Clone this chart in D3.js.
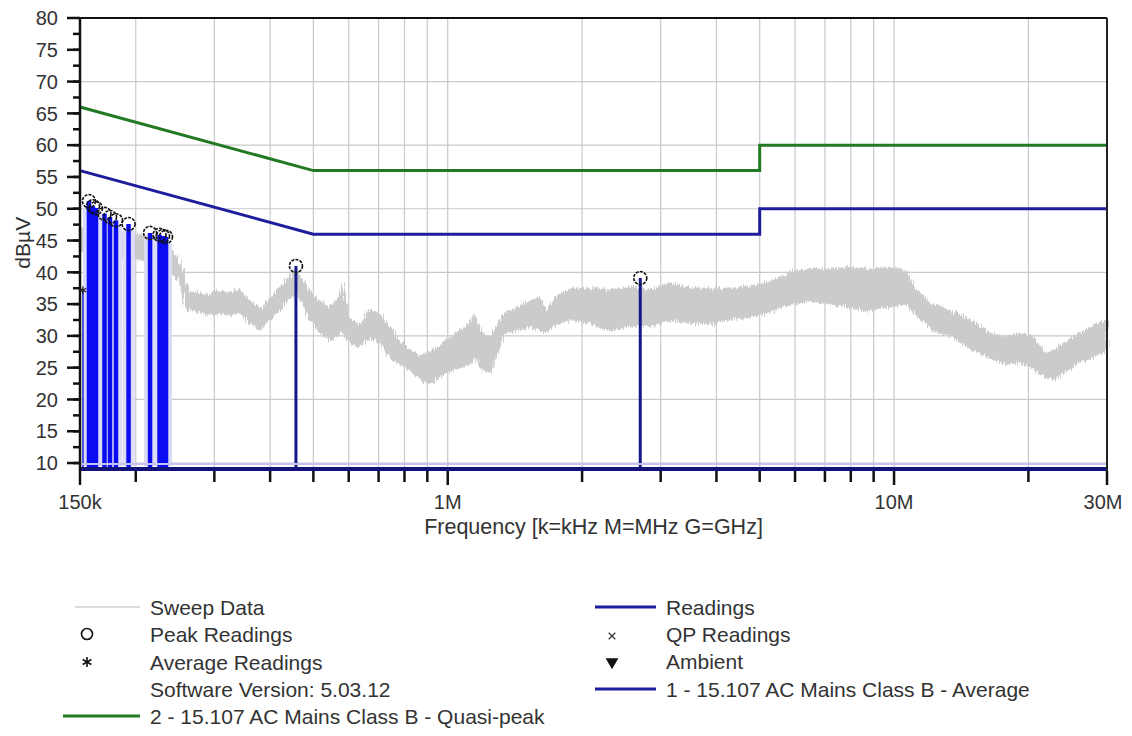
<!DOCTYPE html>
<html><head><meta charset="utf-8">
<script src="https://cdn.jsdelivr.net/npm/d3@7"></script>
<style>
body{margin:0;background:#fff}
text{font-family:"Liberation Sans",Arial,sans-serif;fill:#333}
</style>
</head><body>
<svg id="chart" width="1132" height="736"></svg>
<script>
// Conducted emissions sweep (MHz, dBµV): upper and lower envelope of the trace
const sweepFreqMHz = [0.150,0.158,0.166,0.175,0.1845,0.194,0.204,0.215,0.227,0.239,0.246,0.254,0.259,0.264,0.278,0.293,0.309,0.325,0.343,0.361,0.380,0.400,0.421,0.443,0.457,0.472,0.491,0.517,0.545,0.568,0.580,0.598,0.629,0.670,0.705,0.743,0.782,0.824,0.867,0.913,0.962,1.013,1.067,1.123,1.151,1.183,1.245,1.290,1.344,1.430,1.531,1.612,1.66,1.74,1.882,2.087,2.31,2.56,2.84,3.15,3.49,3.87,4.29,4.76,5.27,5.85,6.48,7.19,7.97,8.83,9.79,10.58,11.15,12.04,13.35,14.8,16.4,17.7,19.1,20.4,21.8,22.9,24.5,26.0,28.2,30.0];
const sweepHigh = [47,47.5,47,46.5,46.5,46,46,45.5,45,43.5,42.5,40.5,38.5,37,36.8,36.5,37,36.8,37.2,35.5,34.2,36,37.7,39.3,40.6,39,37,35.5,34.5,36,38.3,33,31.5,34.1,33.5,31.5,29,27.8,26.8,27.5,28.5,29.8,31,32,33.6,30.9,29.5,32,33.6,34.5,35.5,36,34.1,36,37.5,37.5,37.2,37.7,37.2,38.3,37.5,37.5,37.5,37.8,38.5,40,40.6,40.5,40.8,40.5,40.8,40.5,37.5,35.2,34,32.5,30.5,29.8,30.4,30,27.3,27.8,29.3,30.4,31.8,32.5];
const sweepLow = [43,43.5,43.5,43,42.5,42.5,42,41.8,41,40.5,39.5,37.5,34.5,34,33.6,33.3,33.5,33.3,33.6,32,30.9,32.5,34.1,36,36.7,35,32.5,30.5,29.3,30,31,29,28.2,29.8,29,26.5,25.5,24.6,23,22.5,23.5,24.5,25,25.5,27,25,24.2,27,30.4,30.9,31.4,30.9,30.5,31.5,32.5,32,30.8,31.5,31.5,32.5,32,32,32.5,33,33.6,35,35.5,35,34.5,34,34.5,35,33.5,30.9,30,28,26.5,25.5,25.8,25,23.5,23.2,24.6,25.8,26.8,27.8];

// Final readings (MHz, dBµV)
const readingFreqMHz = [0.1571,0.1604,0.1629,0.1702,0.1751,0.1806,0.1927,0.2153,0.2261,0.2302,0.2338,0.457,2.70];
const readingPeak = [51.2,50.4,50.1,49.2,48.7,48.2,47.6,46.2,45.9,45.7,45.6,41.0,39.1];
const averageFreqMHz = [0.1523];
const averageValue = [37.2];

// FCC 15.107 Class B limits
const qpLimitFreqMHz = [0.15,0.5,5,5,30];
const qpLimit = [66,56,56,60,60];
const avgLimitFreqMHz = [0.15,0.5,5,5,30];
const avgLimit = [56,46,46,50,50];

// Axis ticks
const yTicks = d3.range(10, 81, 5);
const yMinorTicks = d3.range(10, 80, 2.5);
const yGrid = [10,20,30,40,50,60,70];
const xLabelTicks = [0.15,1,10,30];
const xTickLabels = ["150k","1M","10M","30M"];
const xMinorTicks = [0.2,0.3,0.4,0.5,0.6,0.7,0.8,0.9,2,3,4,5,6,7,8,9,20];

const svg = d3.select("#chart");
const L = 80, R = 1107, T = 18, B = 467.5;
const x = d3.scaleLog().domain([0.15, 30]).range([L, R]);
const y = d3.scaleLinear().domain([9.3, 80]).range([B, T]);

// jitter texture for the raw sweep trace
const defs = svg.append("defs");
const flt = defs.append("filter").attr("id", "grain")
  .attr("x", "-2%").attr("y", "-15%").attr("width", "104%").attr("height", "130%");
flt.append("feTurbulence").attr("type", "fractalNoise").attr("baseFrequency", "0.9 0.06")
  .attr("numOctaves", 2).attr("seed", 4).attr("result", "n");
flt.append("feDisplacementMap").attr("in", "SourceGraphic").attr("in2", "n")
  .attr("scale", 9).attr("xChannelSelector", "R").attr("yChannelSelector", "G");

// grid
const grid = svg.append("g").attr("stroke", "#c9c9c9").attr("stroke-width", 1.2);
grid.selectAll(".gx").data(xMinorTicks.concat([1, 10])).join("line")
  .attr("x1", d => x(d)).attr("x2", d => x(d)).attr("y1", T).attr("y2", B);
grid.selectAll(".gy").data(yGrid).join("line")
  .attr("x1", L).attr("x2", R).attr("y1", d => y(d)).attr("y2", d => y(d));

// sweep trace
const sweep = sweepFreqMHz.map((f, i) => ({f, hi: sweepHigh[i], lo: sweepLow[i]}));
svg.append("path").datum(sweep)
  .attr("fill", "#cbcbcb").attr("stroke", "#cbcbcb").attr("stroke-width", 1)
  .attr("filter", "url(#grain)")
  .attr("d", d3.area().x(d => x(d.f)).y0(d => y(d.lo)).y1(d => y(d.hi)));

// limit lines
const lim = d3.line().x(d => x(d[0])).y(d => y(d[1]));
svg.append("path").datum(qpLimitFreqMHz.map((f, i) => [f, qpLimit[i]]))
  .attr("fill", "none").attr("stroke", "#217a21").attr("stroke-width", 3).attr("d", lim);
svg.append("path").datum(avgLimitFreqMHz.map((f, i) => [f, avgLimit[i]]))
  .attr("fill", "none").attr("stroke", "#1c1c9c").attr("stroke-width", 3).attr("d", lim);

// readings
const readings = readingFreqMHz.map((f, i) => ({f, v: readingPeak[i]}));
const cluster = readings.filter(d => d.f < 0.3);
const single = readings.filter(d => d.f >= 0.3);
svg.append("g").selectAll("line").data(cluster).join("line")
  .attr("x1", d => x(d.f)).attr("x2", d => x(d.f)).attr("y1", d => y(d.v) + 6).attr("y2", 466)
  .attr("stroke", "#dcdcf7").attr("stroke-width", 12);
svg.append("g").selectAll("line").data(cluster).join("line")
  .attr("x1", d => x(d.f)).attr("x2", d => x(d.f)).attr("y1", d => y(d.v)).attr("y2", 468)
  .attr("stroke", "#0c0cf0").attr("stroke-width", 4.5);
svg.append("g").selectAll("line").data(single).join("line")
  .attr("x1", d => x(d.f)).attr("x2", d => x(d.f)).attr("y1", d => y(d.v)).attr("y2", 468)
  .attr("stroke", "#17178a").attr("stroke-width", 3);
// average reading
svg.append("g").selectAll("line").data(averageFreqMHz).join("line")
  .attr("x1", d => x(d)).attr("x2", d => x(d)).attr("y1", (d, i) => y(averageValue[i])).attr("y2", 468)
  .attr("stroke", "#2020e0").attr("stroke-width", 1.5);
svg.append("g").selectAll("path").data(averageFreqMHz).join("path")
  .attr("transform", (d, i) => `translate(${x(d)},${y(averageValue[i])})`)
  .attr("d", d3.symbol(d3.symbolAsterisk, 40)).attr("stroke", "#222").attr("stroke-width", 1.3).attr("fill", "none");
// peak markers
svg.append("g").selectAll("circle").data(readings).join("circle")
  .attr("cx", d => x(d.f)).attr("cy", d => y(d.v)).attr("r", 6.5)
  .attr("fill", "none").attr("stroke", "#111").attr("stroke-width", 1.6).attr("stroke-dasharray", "3 1.2");

// baseline bands
svg.append("line").attr("x1", L).attr("x2", R).attr("y1", 464).attr("y2", 464)
  .attr("stroke", "#c4c4f2").attr("stroke-width", 2);
svg.append("line").attr("x1", L).attr("x2", R).attr("y1", 469).attr("y2", 469)
  .attr("stroke", "#12127a").attr("stroke-width", 4);

// frame
svg.append("line").attr("x1", 67).attr("x2", R).attr("y1", T).attr("y2", T).attr("stroke", "#111").attr("stroke-width", 2);
svg.append("line").attr("x1", R).attr("x2", R).attr("y1", T).attr("y2", 471).attr("stroke", "#222").attr("stroke-width", 2);
svg.append("line").attr("x1", L).attr("x2", L).attr("y1", T - 1).attr("y2", 471).attr("stroke", "#111").attr("stroke-width", 2.5);

// y axis
const ya = svg.append("g");
ya.selectAll(".mn").data(yMinorTicks).join("line")
  .attr("x1", 73).attr("x2", L).attr("y1", d => y(d)).attr("y2", d => y(d))
  .attr("stroke", "#111").attr("stroke-width", 2.5);
ya.selectAll(".mj").data(yTicks).join("line")
  .attr("x1", 67).attr("x2", L).attr("y1", d => y(d)).attr("y2", d => y(d))
  .attr("stroke", "#111").attr("stroke-width", 2.5);
ya.selectAll("text").data(yTicks).join("text")
  .attr("x", 58).attr("y", d => y(d)).attr("dy", "0.36em").attr("text-anchor", "end")
  .attr("font-size", 20).text(d => d);
svg.append("text").attr("transform", `translate(30,${(T + B) / 2}) rotate(-90)`)
  .attr("text-anchor", "middle").attr("font-size", 21).text("dBµV");

// x axis
const xa = svg.append("g");
xa.selectAll(".mn").data(xMinorTicks).join("line")
  .attr("x1", d => x(d)).attr("x2", d => x(d)).attr("y1", 471).attr("y2", 482)
  .attr("stroke", "#111").attr("stroke-width", 2.5);
xa.selectAll(".mj").data(xLabelTicks).join("line")
  .attr("x1", d => x(d)).attr("x2", d => x(d)).attr("y1", 471).attr("y2", 485)
  .attr("stroke", "#111").attr("stroke-width", 2.5);
xa.selectAll("text").data(xLabelTicks).join("text")
  .attr("x", (d, i) => x(d) - (i === 3 ? 4 : 0)).attr("y", 509).attr("text-anchor", "middle")
  .attr("font-size", 20).text((d, i) => xTickLabels[i]);
svg.append("text").attr("x", (L + R) / 2).attr("y", 534).attr("text-anchor", "middle")
  .attr("font-size", 21.5).text("Frequency [k=kHz M=MHz G=GHz]");

// legend
const lg = svg.append("g").attr("font-size", 21);
const leftRows = [607, 634, 662, 689, 716];
const rightRows = [607, 634, 661, 689];
lg.append("line").attr("x1", 75).attr("x2", 140).attr("y1", leftRows[0]).attr("y2", leftRows[0]).attr("stroke", "#cfcfcf").attr("stroke-width", 1.5);
lg.append("circle").attr("cx", 87).attr("cy", leftRows[1]).attr("r", 5.5).attr("fill", "none").attr("stroke", "#111").attr("stroke-width", 1.6);
lg.append("path").attr("transform", `translate(87,${leftRows[2]})`).attr("d", d3.symbol(d3.symbolAsterisk, 70)).attr("stroke", "#111").attr("stroke-width", 1.6).attr("fill", "none");
lg.append("line").attr("x1", 63).attr("x2", 140).attr("y1", leftRows[4]).attr("y2", leftRows[4]).attr("stroke", "#217a21").attr("stroke-width", 3);
const leftText = ["Sweep Data", "Peak Readings", "Average Readings", "Software Version: 5.03.12", "2 - 15.107 AC Mains Class B - Quasi-peak"];
lg.selectAll(".lt").data(leftText).join("text").attr("x", 150).attr("y", (d, i) => leftRows[i]).attr("dy", "0.36em").text(d => d);

lg.append("line").attr("x1", 595).attr("x2", 656).attr("y1", rightRows[0]).attr("y2", rightRows[0]).attr("stroke", "#1c1c9c").attr("stroke-width", 3);
lg.append("path").attr("transform", `translate(612,${rightRows[1] + 2})`).attr("d", d3.symbol(d3.symbolX, 30)).attr("stroke", "#333").attr("stroke-width", 1.2).attr("fill", "none");
lg.append("path").attr("transform", `translate(612,${rightRows[2] + 1}) rotate(180)`).attr("d", d3.symbol(d3.symbolTriangle, 70)).attr("fill", "#111");
lg.append("line").attr("x1", 595).attr("x2", 656).attr("y1", rightRows[3]).attr("y2", rightRows[3]).attr("stroke", "#1c1c9c").attr("stroke-width", 3);
const rightText = ["Readings", "QP Readings", "Ambient", "1 - 15.107 AC Mains Class B - Average"];
lg.selectAll(".rt").data(rightText).join("text").attr("x", 666).attr("y", (d, i) => rightRows[i]).attr("dy", "0.36em").text(d => d);
</script>
</body></html>
